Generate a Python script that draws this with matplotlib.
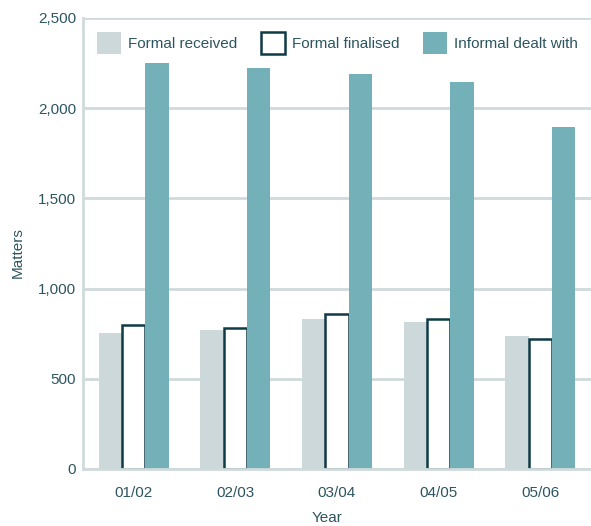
import matplotlib
matplotlib.use("Agg")
import matplotlib.pyplot as plt
import numpy as np

years = ["01/02", "02/03", "03/04", "04/05", "05/06"]
formal_received = [755, 770, 831, 815, 739]
formal_finalised = [800, 783, 861, 831, 722]
informal_dealt = [2250, 2223, 2190, 2145, 1896]
yticks = [0, 500, 1000, 1500, 2000, 2500]
ytick_labels = ["0", "500", "1,000", "1,500", "2,000", "2,500"]

plt.rcParams['font.family'] = ['Liberation Sans', 'DejaVu Sans']
text_col = "#2d5560"
grid_col = "#cfdadc"

fig = plt.figure(figsize=(5.91, 5.26), dpi=100)
ax = fig.add_axes([0.1404, 0.1084, 0.8596, 0.8574])

x = np.arange(len(years))
w = 0.23
ax.bar(x - w, formal_received, w, color="#cdd8da", label="Formal received", zorder=2)
ax.bar(x, formal_finalised, w, color="white", edgecolor="#0f3b47", linewidth=1.8,
       label="Formal finalised", zorder=2)
ax.bar(x + w, informal_dealt, w, color="#73b0b7", label="Informal dealt with", zorder=2)

ax.set_xlim(-0.5, len(years) - 0.5)
ax.set_ylim(0, 2500)
ax.set_yticks(yticks)
ax.set_yticklabels(ytick_labels)
ax.set_xticks(x)
ax.set_xticklabels(years)
ax.tick_params(length=0, labelsize=11, colors=text_col)
ax.tick_params(axis="y", pad=5)
ax.tick_params(axis="x", pad=12)
ax.yaxis.grid(True, color=grid_col, linewidth=2, zorder=0)
ax.set_axisbelow(True)
for s in ["top", "right"]:
    ax.spines[s].set_visible(False)
for s in ["left", "bottom"]:
    ax.spines[s].set_color(grid_col)
    ax.spines[s].set_linewidth(2)

ax.set_ylabel("Matters", fontsize=11, color=text_col)
ax.yaxis.set_label_coords(-0.128, 0.48)
ax.set_xlabel("Year", fontsize=11, color=text_col)
ax.xaxis.set_label_coords(0.48, -0.109)
ax.xaxis.label.set_va("center")
ax.yaxis.label.set_va("center")

ax.legend(loc="center", bbox_to_anchor=(0.501, 0.9446), ncol=3, frameon=False,
          fontsize=11, labelcolor=text_col, handlelength=1.57, handleheight=1.83,
          columnspacing=1.57, handletextpad=0.46, borderpad=0, borderaxespad=0)

fig.savefig("out.png", dpi=100)
